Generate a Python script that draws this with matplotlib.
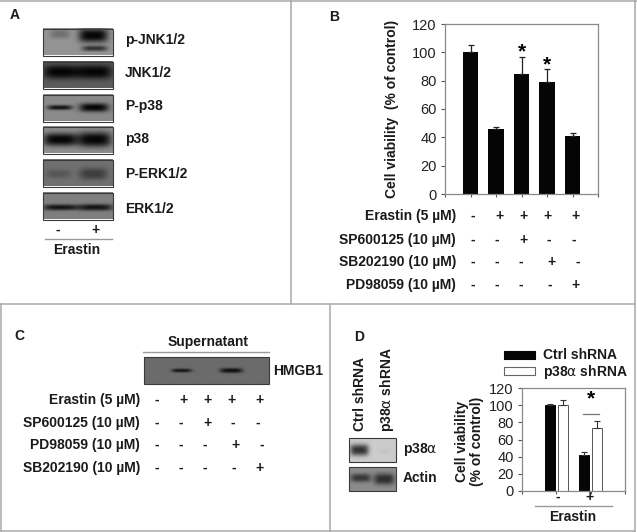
import matplotlib
matplotlib.use('Agg')
import matplotlib.pyplot as plt
from matplotlib.patches import Rectangle
import numpy as np

plt.rcParams['font.family'] = ['Liberation Sans', 'DejaVu Sans']
plt.rcParams['mathtext.fontset'] = 'dejavusans'

W, H = 637, 532
TXT = '#1a1a1a'
GREY = '#a8a8a8'
ALPHA = r'$\mathrm{\alpha}$'

# panel B data
b_values = [100, 46, 85, 79, 41]
b_errors = [5, 1, 12, 9, 2]
b_stars = [3, 4]
b_rows = ['Erastin (5 µM)', 'SP600125 (10 µM)', 'SB202190 (10 µM)', 'PD98059 (10 µM)']
b_signs = ['-++++', '--+--', '---+-', '----+']

# panel C data
c_rows = ['Erastin (5 µM)', 'SP600125 (10 µM)', 'PD98059 (10 µM)', 'SB202190 (10 µM)']
c_signs = ['-++++', '--+--', '---+-', '----+']

# panel D data
d_ctrl = [100, 42]
d_ctrl_err = [1, 3]
d_p38 = [100, 73]
d_p38_err = [6, 9]
d_groups = ['-', '+']

# blots: name, band list (x, y, half width, half height, darkness), background
a_names = ['p-JNK1/2', 'JNK1/2', 'P-p38', 'p38', 'P-ERK1/2', 'ERK1/2']
a_backgrounds = [0.58, 0.36, 0.54, 0.56, 0.44, 0.50]
a_bands = [
    [(0.24, 0.22, 0.14, 0.16, 0.14), (0.72, 0.27, 0.21, 0.26, 0.56), (0.74, 0.76, 0.18, 0.10, 0.38)],
    [(0.26, 0.40, 0.26, 0.26, 0.34), (0.74, 0.40, 0.25, 0.26, 0.34)],
    [(0.24, 0.50, 0.18, 0.09, 0.46), (0.73, 0.50, 0.21, 0.16, 0.52)],
    [(0.25, 0.50, 0.25, 0.24, 0.54), (0.74, 0.50, 0.24, 0.28, 0.54)],
    [(0.22, 0.55, 0.18, 0.16, 0.10), (0.72, 0.55, 0.20, 0.22, 0.20)],
    [(0.25, 0.57, 0.25, 0.11, 0.42), (0.75, 0.57, 0.25, 0.12, 0.42)],
]
hmgb1_bands = [(0.30, 0.50, 0.08, 0.07, 0.33), (0.70, 0.50, 0.09, 0.09, 0.36)]
p38a_bands = [(0.22, 0.50, 0.20, 0.24, 0.60), (0.75, 0.55, 0.12, 0.12, 0.03)]
actin_bands = [(0.25, 0.45, 0.22, 0.18, 0.33), (0.75, 0.50, 0.22, 0.24, 0.37)]


def px_axes(x0, y0, x1, y1):
    # axes placed by pixel box, y measured from the top
    return fig.add_axes([x0 / W, 1 - y1 / H, (x1 - x0) / W, (y1 - y0) / H])


def draw_blot(ax, x0, y0, x1, y1, bg, bands):
    xx, yy = np.meshgrid(np.linspace(0, 1, 140), np.linspace(0, 1, 60))
    img = np.full(xx.shape, float(bg))
    for cx, cy, sx, sy, dark in bands:
        img -= dark * np.exp(-np.abs((xx - cx) / sx) ** 4 - np.abs((yy - cy) / sy) ** 2.5)
    ax.imshow(np.clip(img, 0, 1), cmap='gray', vmin=0, vmax=1, aspect='auto',
              extent=(x0, x1, y1, y0), interpolation='bilinear')
    ax.add_patch(Rectangle((x0, y0), x1 - x0, y1 - y0, fill=False, ec='#3a3a3a', lw=0.8))


def label(ax, x, y, s, ha='left', size=10, weight='bold', **kw):
    ax.text(x, y, s, ha=ha, va='center', fontsize=size, fontweight=weight, color=TXT, **kw)


def sign_rows(ax, names, signs, xs, ys, name_x):
    for name, row, xrow, y in zip(names, signs, xs, ys):
        label(ax, name_x, y, name, ha='right')
        for ch, x in zip(row, xrow):
            label(ax, x, y, ch, ha='center')


def style_axes(ax):
    for s in ax.spines.values():
        s.set_color('#8a8a8a')
        s.set_linewidth(0.9)
    ax.set_ylim(0, 120)
    ax.set_yticks(range(0, 121, 20))
    ax.tick_params(axis='y', labelsize=10.5, length=3, color='#555555', labelcolor='#222222', pad=3)
    ax.patch.set_alpha(0)


fig = plt.figure(figsize=(W / 100, H / 100), dpi=100)
bg = fig.add_axes([0, 0, 1, 1])

# panel A
label(bg, 10, 15, 'A')
a_tops = [29, 62, 95, 127, 160, 193]
a_label_y = [40, 73, 106, 139, 174, 209]
for name, top, ly, back, bands in zip(a_names, a_tops, a_label_y, a_backgrounds, a_bands):
    draw_blot(bg, 43, top, 113, top + 26.5, back, bands)
    label(bg, 125, ly, name)
label(bg, 58, 230, '-', ha='center')
label(bg, 96, 230, '+', ha='center')
bg.plot([45, 112], [239, 239], color='#999999', lw=1)
label(bg, 77, 250, 'Erastin', ha='center')

# panel B
label(bg, 329, 17, 'B')
label(bg, 392, 109, 'Cell viability  (% of control)', ha='center', rotation=90)
b_xs = [[473, 499, 523, 547, 575], [473, 497, 523, 549, 574],
        [473, 497, 521, 552, 578], [473, 497, 521, 550, 576]]
sign_rows(bg, b_rows, b_signs, b_xs, [216, 240, 262, 285], 456)

ax_b = px_axes(445, 24, 598, 194)
xb = np.arange(1, len(b_values) + 1)
ax_b.bar(xb, b_values, width=0.62, color='#050505')
ax_b.errorbar(xb, b_values, yerr=[[0] * len(b_errors), b_errors], fmt='none',
              ecolor='#222222', elinewidth=0.9, capsize=2.5, capthick=0.9)
style_axes(ax_b)
ax_b.set_xlim(0, 6)
ax_b.set_xticks(range(0, 7))
ax_b.tick_params(axis='x', labelbottom=False, length=2, color='#555555')
for i in b_stars:
    ax_b.text(i, b_values[i - 1] + b_errors[i - 1] - 3.5, '*', ha='center', va='bottom',
              fontsize=15, fontweight='bold', color='black')

# panel C
label(bg, 14, 336, 'C')
label(bg, 208, 342, 'Supernatant', ha='center')
bg.plot([143, 269], [352, 352], color='#999999', lw=1)
draw_blot(bg, 144, 357, 269, 384, 0.42, hmgb1_bands)
label(bg, 273, 371, 'HMGB1')
c_xs = [[157, 183, 207, 231, 259], [157, 181, 207, 233, 258],
        [157, 181, 205, 236, 262], [157, 181, 205, 234, 260]]
sign_rows(bg, c_rows, c_signs, c_xs, [400, 423, 445, 468], 140)

# panel D
label(bg, 354, 337, 'D')
label(bg, 360, 394, 'Ctrl shRNA', ha='center', rotation=90, size=10)
label(bg, 387, 390, 'p38' + ALPHA + ' shRNA', ha='center', rotation=90, size=10)
draw_blot(bg, 349, 438, 396, 462, 0.80, p38a_bands)
draw_blot(bg, 349, 467, 396, 491, 0.55, actin_bands)
label(bg, 403, 449, 'p38' + ALPHA)
label(bg, 403, 478, 'Actin')
label(bg, 462, 441, 'Cell viability', ha='center', rotation=90)
label(bg, 477, 441, '(% of control)', ha='center', rotation=90)

bg.add_patch(Rectangle((504, 351), 31, 8, fc='#050505', ec='#050505', lw=0.8))
bg.add_patch(Rectangle((504, 367), 31, 8, fc='white', ec='#666666', lw=0.8))
label(bg, 543, 355, 'Ctrl shRNA')
label(bg, 543, 372, 'p38' + ALPHA + ' shRNA')

ax_d = px_axes(522, 388, 625, 491)
xd = np.arange(1, len(d_groups) + 1)
ax_d.bar(xd - 0.19, d_ctrl, width=0.3, color='#050505', edgecolor='#050505', linewidth=0.7)
ax_d.bar(xd + 0.19, d_p38, width=0.3, color='white', edgecolor='#555555', linewidth=0.7)
ax_d.errorbar(xd - 0.19, d_ctrl, yerr=[[0, 0], d_ctrl_err], fmt='none', ecolor='#333333',
              elinewidth=0.8, capsize=2, capthick=0.8)
ax_d.errorbar(xd + 0.19, d_p38, yerr=[[0, 0], d_p38_err], fmt='none', ecolor='#333333',
              elinewidth=0.8, capsize=2, capthick=0.8)
style_axes(ax_d)
ax_d.set_xlim(0, 3)
ax_d.set_xticks(range(0, 4))
ax_d.tick_params(axis='x', labelbottom=False, length=2, color='#555555')
label(bg, 558, 497, d_groups[0], ha='center')
label(bg, 589, 497, d_groups[1], ha='center')
bg.plot([535, 612], [506, 506], color='#999999', lw=1)
label(bg, 573, 517, 'Erastin', ha='center')
bg.plot([583, 599], [414, 414], color='#777777', lw=0.9)
ax_d.text(2, 96, '*', ha='center', va='bottom', fontsize=15, fontweight='bold', color='black')

# panel borders
for xs, ys in [([0, 637], [1, 1]), ([290.5, 290.5], [0, 304]), ([0, 635], [304, 304]),
               ([1, 1], [304, 531]), ([0, 635], [530.5, 530.5]),
               ([329.5, 329.5], [304, 531]), ([634.5, 634.5], [0, 531])]:
    bg.plot(xs, ys, color=GREY, lw=1.1)

bg.set_xlim(0, W)
bg.set_ylim(H, 0)
bg.axis('off')

fig.savefig('out.png', dpi=100)
